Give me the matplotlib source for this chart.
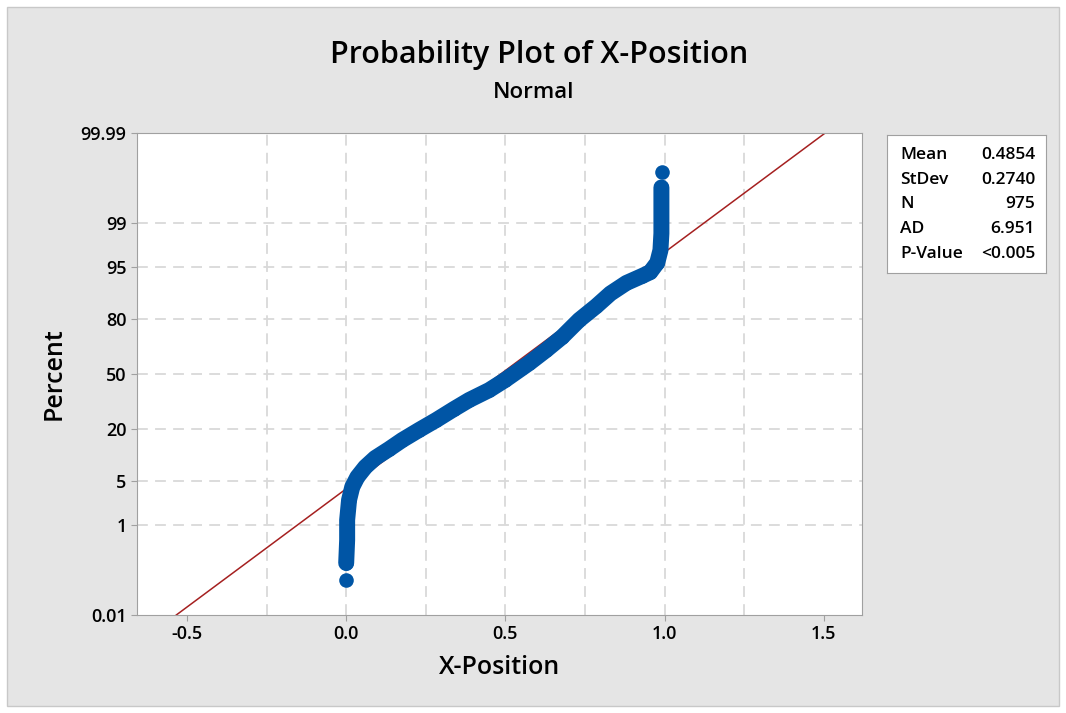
from statistics import NormalDist

import matplotlib
import matplotlib.patches as mpatches
import matplotlib.pyplot as plt
import numpy as np

matplotlib.use("Agg")

plt.rcParams.update({
    "font.family": ["Open Sans", "DejaVu Sans"],
    "font.size": 13,
})

# ordered data: x-position vs. plotted percent
x_pos = [0.000, 0.000, 0.003, 0.003, 0.009, 0.019, 0.035, 0.060, 0.091, 0.135,
         0.176, 0.229, 0.283, 0.339, 0.386, 0.449, 0.499, 0.575, 0.628, 0.678,
         0.732, 0.785, 0.830, 0.880, 0.930, 0.955, 0.977, 0.987, 0.990, 0.990,
         0.990, 0.993]
pct = [0.074, 0.177, 0.52, 1.21, 2.59, 4.06, 5.59, 7.56, 9.75, 12.36,
       15.4, 19.4, 23.9, 29.5, 34.4, 40.2, 46.3, 56.7, 64.4, 71.6,
       79.8, 85.2, 89.3, 92.0, 93.5, 94.2, 95.7, 97.2, 98.5, 99.43,
       99.80, 99.91]

mean, stdev, n_obs, ad, pval = 0.4854, 0.2740, 975, 6.951, "<0.005"

y_ticks = [0.01, 1, 5, 20, 50, 80, 95, 99, 99.99]
y_tick_labels = ["0.01", "1", "5", "20", "50", "80", "95", "99", "99.99"]
x_ticks = [-0.5, 0.0, 0.5, 1.0, 1.5]
x_grid = [-0.25, 0.0, 0.25, 0.5, 0.75, 1.0, 1.25]

nd = NormalDist()


def to_z(p):
    return np.array([nd.inv_cdf(v / 100.0) for v in np.atleast_1d(p)])


fig = plt.figure(figsize=(10.66, 7.13), dpi=100)
fig.patch.set_facecolor("white")
fig.add_artist(mpatches.Rectangle((7 / 1066, 7 / 713), 1052 / 1066, 699 / 713,
                                  transform=fig.transFigure, facecolor="#e5e5e5",
                                  edgecolor="#c8c8c8", lw=1.0, zorder=-10))

ax = fig.add_axes([137 / 1066, 1 - 615 / 713, 725 / 1066, 482 / 713])
ax.set_facecolor("white")

z_lo, z_hi = to_z([0.01, 99.99])
ax.set_xlim(-0.657, 1.62)
ax.set_ylim(z_lo, z_hi)

# grid
for gx in x_grid:
    ax.axvline(gx, color="#d9d9d9", lw=1.3, ls=(0, (6, 4)), zorder=1)
for zt in to_z(y_ticks[1:-1]):
    ax.axhline(zt, color="#d9d9d9", lw=1.3, ls=(0, (6, 4)), zorder=1)

# fitted normal line
zz = np.array([z_lo, z_hi])
ax.plot(mean + stdev * zz, zz, color="#a52020", lw=1.1, zorder=2)

# data: dense middle drawn as a band, extremes stay separate dots
z_data = to_z(pct)
ax.plot(x_pos[1:-1], z_data[1:-1], color="#0055a5", lw=11.5,
        solid_capstyle="round", solid_joinstyle="round", zorder=3)
ax.plot(x_pos, z_data, "o", color="#0055a5", ms=10.5, mec="none", zorder=4)

ax.set_yticks(to_z(y_ticks))
ax.set_yticklabels(y_tick_labels)
ax.set_xticks(x_ticks)
ax.set_xticklabels([f"{v:.1f}" for v in x_ticks])
ax.tick_params(colors="#a0a0a0", labelcolor="black", labelsize=13, length=4)
for lbl in ax.get_xticklabels() + ax.get_yticklabels():
    lbl.set_fontweight("semibold")
for sp in ax.spines.values():
    sp.set_color("#a0a0a0")

ax.set_xlabel("X-Position", fontsize=18, fontweight="semibold", labelpad=8)
ax.set_ylabel("Percent", fontsize=18, fontweight="semibold", labelpad=10)

fig.text(539 / 1066, 1 - 55 / 713, "Probability Plot of X-Position",
         ha="center", va="center", fontsize=22, fontweight="semibold")
fig.text(534 / 1066, 1 - 92 / 713, "Normal", ha="center", va="center",
         fontsize=16, fontweight="semibold")

# stats box
box = fig.add_axes([887 / 1066, 1 - 273 / 713, 159 / 1066, 138 / 713])
box.set_xlim(0, 1)
box.set_ylim(0, 1)
box.set_xticks([])
box.set_yticks([])
box.set_facecolor("white")
for sp in box.spines.values():
    sp.set_color("#a0a0a0")
rows = [("Mean", f"{mean:.4f}"), ("StDev", f"{stdev:.4f}"), ("N", f"{n_obs}"),
        ("AD", f"{ad:.3f}"), ("P-Value", pval)]
for i, (lab, val) in enumerate(rows):
    yy = 1 - (20 + 24.7 * i) / 138
    box.text(13 / 159, yy, lab, ha="left", va="center", fontsize=12.5,
             fontweight="semibold")
    box.text(148 / 159, yy, val, ha="right", va="center", fontsize=12.5,
             fontweight="semibold")

fig.savefig("out.png", dpi=100)
plt.close(fig)
